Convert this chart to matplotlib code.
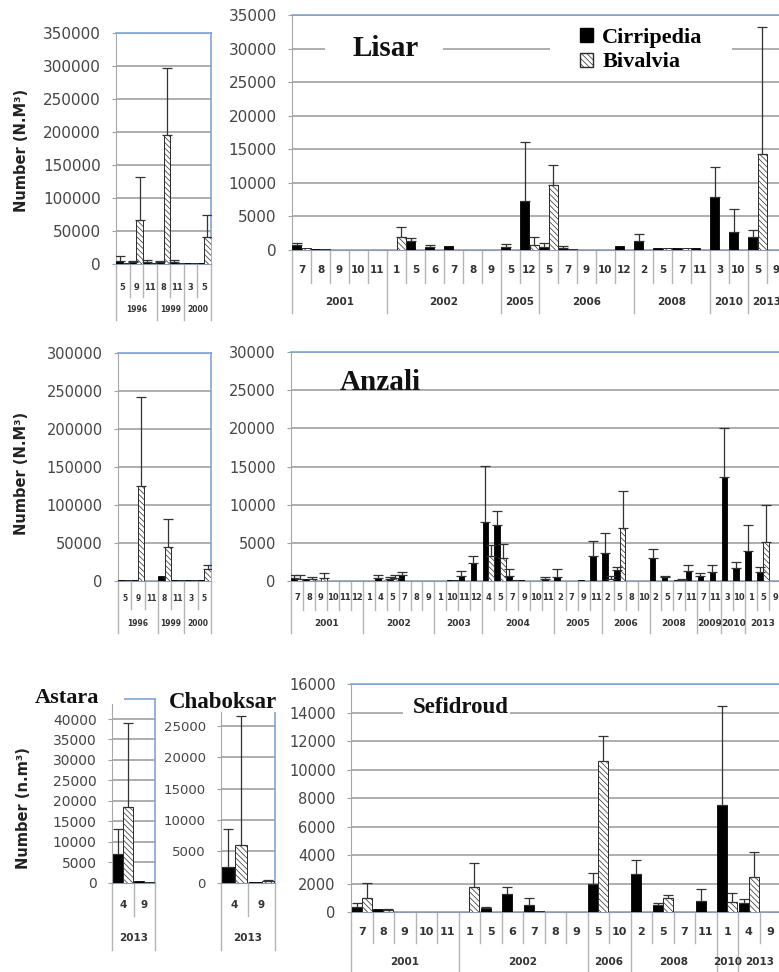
import numpy as np
import matplotlib
matplotlib.use("Agg")
import matplotlib.pyplot as plt
import matplotlib.transforms as mtransforms
from matplotlib.patches import Patch, Rectangle

# ---------------- data ----------------
# Lisar, 1996-2000 (left panel)
lisar_old_years = ["1996", "1999", "2000"]
lisar_old_months = [[5, 9, 11], [8, 11], [3, 5]]
lisar_old_cirr = [4000, 2000, 3000, 2000, 3000, 1000, 800]
lisar_old_cirr_err = [7000, 1500, 2500, 1500, 3000, 0, 0]
lisar_old_biv = [1000, 66500, 1000, 194000, 1000, 500, 39500]
lisar_old_biv_err = [0, 64500, 0, 102000, 0, 0, 33500]

# Lisar, 2001-2013
lisar_years = ["2001", "2002", "2005", "2006", "2008", "2010", "2013"]
lisar_months = [[7, 8, 9, 10, 11], [1, 5, 6, 7, 8, 9], [5, 12], [5, 7, 9, 10, 12],
                [2, 5, 7, 11], [3, 10], [5, 9]]
lisar_cirr = [800, 100, 50, 50, 50, 30, 1340, 400, 650, 50, 50, 400, 7350,
              500, 350, 50, 50, 600, 1390, 250, 250, 250, 7940, 2730, 1990, 50]
lisar_cirr_err = [200, 0, 0, 0, 0, 0, 500, 350, 0, 0, 0, 550, 8690,
                  600, 250, 0, 0, 0, 1040, 0, 0, 0, 4460, 3330, 990, 0]
lisar_biv = [350, 80, 50, 50, 50, 2000, 50, 50, 50, 50, 50, 50, 750,
             9680, 80, 50, 50, 50, 50, 250, 250, 50, 50, 50, 14250, 50]
lisar_biv_err = [0, 0, 0, 0, 0, 1380, 0, 0, 0, 0, 0, 0, 1150,
                 3020, 0, 0, 0, 0, 0, 0, 0, 0, 0, 0, 19020, 0]

# Anzali, 1996-2000 (left panel)
anzali_old_years = ["1996", "1999", "2000"]
anzali_old_months = [[5, 9, 11], [8, 11], [3, 5]]
anzali_old_cirr = [1500, 1000, 500, 6500, 1000, 1500, 1000]
anzali_old_cirr_err = [0, 0, 0, 0, 0, 0, 0]
anzali_old_biv = [1000, 125000, 500, 44000, 1000, 1000, 16000]
anzali_old_biv_err = [0, 117000, 0, 37000, 0, 0, 5000]

# Anzali, 2001-2013
anzali_years = ["2001", "2002", "2003", "2004", "2005", "2006", "2008", "2009", "2010", "2013"]
anzali_months = [[7, 8, 9, 10, 11, 12], [1, 4, 5, 7, 8, 9], [1, 10, 11, 12],
                 [4, 5, 7, 9, 10, 11], [2, 7, 9, 11], [2, 5, 8, 10], [2, 5, 7, 11],
                 [7, 11], [3, 10], [1, 5, 9]]
anzali_cirr = [450, 300, 0, 0, 0, 0, 0, 450, 250, 800, 0, 0, 0, 100, 700, 2370,
               7760, 7330, 660, 80, 0, 200, 530, 0, 100, 3300, 3680, 1400, 0, 0,
               2980, 530, 100, 1360, 700, 1180, 13680, 1670, 3900, 1140, 50]
anzali_cirr_err = [400, 0, 0, 0, 0, 0, 0, 400, 300, 350, 0, 0, 0, 0, 600, 930,
                   7370, 1870, 960, 0, 0, 300, 1070, 0, 0, 1960, 2550, 440, 0, 0,
                   1270, 70, 0, 790, 400, 880, 6320, 870, 3500, 660, 0]
anzali_biv = [300, 300, 350, 0, 0, 0, 0, 50, 400, 50, 0, 0, 0, 100, 0, 0,
              3300, 3030, 100, 0, 0, 0, 0, 0, 0, 0, 300, 6970, 0, 0,
              0, 50, 100, 0, 0, 0, 0, 0, 0, 5090, 0]
anzali_biv_err = [500, 200, 650, 0, 0, 0, 0, 0, 400, 0, 0, 0, 0, 0, 0, 0,
                  1400, 1840, 0, 0, 0, 0, 0, 0, 0, 0, 400, 4870, 0, 0,
                  0, 0, 160, 0, 0, 0, 0, 0, 0, 4810, 0]

# Astara and Chaboksar, 2013
single_years = ["2013"]
single_months = [[4, 9]]
astara_cirr = [6900, 300]
astara_cirr_err = [6100, 0]
astara_biv = [18400, 200]
astara_biv_err = [20600, 0]
chaboksar_cirr = [2500, 50]
chaboksar_cirr_err = [6100, 0]
chaboksar_biv = [6000, 200]
chaboksar_biv_err = [20600, 200]

# Sefidroud, 2001-2013
sefid_years = ["2001", "2002", "2006", "2008", "2010", "2013"]
sefid_months = [[7, 8, 9, 10, 11], [1, 5, 6, 7, 8, 9], [5, 10], [2, 5, 7, 11], [1], [4, 9]]
sefid_cirr = [400, 210, 0, 0, 0, 0, 330, 1260, 510, 0, 0, 1970, 0, 2710, 510, 0, 800, 7560, 630, 0]
sefid_cirr_err = [230, 0, 0, 0, 0, 0, 70, 540, 470, 0, 0, 810, 0, 940, 170, 0, 810, 6920, 280, 0]
sefid_biv = [1030, 160, 0, 0, 0, 1800, 30, 50, 100, 0, 0, 10640, 0, 0, 1030, 0, 0, 720, 2460, 0]
sefid_biv_err = [1050, 100, 0, 0, 0, 1690, 0, 0, 0, 0, 0, 1760, 0, 0, 190, 0, 0, 660, 1770, 0]

# ---------------- figure ----------------
W, H = 779, 972
fig = plt.figure(figsize=(W / 100, H / 100), dpi=100)
plt.rcParams["hatch.linewidth"] = 0.5
HATCH = "\\" * 6
SERIF = "Liberation Serif"


def fx(xpx):
    return xpx / W


def fy(ypx):
    return 1 - ypx / H


def panel(box, years, months, cirr, cirr_err, biv, biv_err, ymax, yticks,
          tick_fs, month_fs, year_fs, rows):
    x0, y0, x1, y1 = box
    ax = fig.add_axes([fx(x0), fy(y1), (x1 - x0) / W, (y1 - y0) / H])
    flat = [m for ms in months for m in ms]
    n = len(flat)
    x = np.arange(n)
    w, off = 0.47, 0.24
    ax.bar(x - off, cirr, w, color="black", edgecolor="black", linewidth=0.6, zorder=3)
    ax.bar(x + off, biv, w, color="white", edgecolor="#2a2a2a", hatch=HATCH,
           linewidth=0.7, zorder=3)
    for dx, v, e in ((-off, cirr, cirr_err), (off, biv, biv_err)):
        v = np.asarray(v, float)
        e = np.asarray(e, float)
        m = e > 0
        if m.any():
            ax.errorbar(x[m] + dx, v[m], yerr=[np.zeros(m.sum()), e[m]], fmt="none",
                        ecolor="#333333", elinewidth=0.9, capsize=3.5, capthick=0.9,
                        zorder=4)
    ax.set_xlim(-0.5, n - 0.5)
    ax.set_ylim(0, ymax)
    ax.set_yticks(yticks)
    ax.set_yticklabels([f"{t:d}" for t in yticks], fontsize=tick_fs, color="#454545")
    ax.tick_params(axis="y", length=3, width=0.8, color="#a0a0a0", pad=8)
    ax.set_xticks([])
    ax.yaxis.grid(True, color="#a0a0a0", linewidth=1.2)
    ax.set_axisbelow(True)
    for s in ("top", "right"):
        ax.spines[s].set_color("#7fa5d6")
        ax.spines[s].set_linewidth(1.2)
    ax.spines["left"].set_color("#a6a6a6")
    ax.spines["bottom"].set_color("#8a9bb0")

    # two-level category axis: months, then years
    month_y, year_y, sep_m, sep_y = rows
    tr = mtransforms.blended_transform_factory(ax.transData, fig.transFigure)
    bounds = np.cumsum([0] + [len(ms) for ms in months])
    for b in range(n + 1):
        bottom = sep_y if b in bounds else sep_m
        ax.plot([b - 0.5, b - 0.5], [fy(y1), fy(bottom)], transform=tr,
                color="#b4b4b4", linewidth=1.0, clip_on=False)
    for i, m in enumerate(flat):
        ax.text(i, fy(month_y), str(m), transform=tr, ha="center", va="center",
                fontsize=month_fs, fontweight="bold", color="#333333", clip_on=False)
    for k, yr in enumerate(years):
        xc = (bounds[k] + bounds[k + 1] - 1) / 2
        ax.text(xc, fy(year_y), yr, transform=tr, ha="center", va="center",
                fontsize=year_fs, fontweight="bold", color="#333333", clip_on=False)
    return ax


ax_l_old = panel((116, 32.5, 211, 263.5), lisar_old_years, lisar_old_months,
                 lisar_old_cirr, lisar_old_cirr_err, lisar_old_biv, lisar_old_biv_err,
                 350000, list(range(0, 350001, 50000)), 11, 6, 5.5, (287, 310, 297, 320))
ax_l = panel((292, 15, 786, 250), lisar_years, lisar_months,
             lisar_cirr, lisar_cirr_err, lisar_biv, lisar_biv_err,
             35000, list(range(0, 35001, 5000)), 11, 7.5, 7.5, (270, 302, 283, 313))
ax_a_old = panel((118, 352.5, 211, 581), anzali_old_years, anzali_old_months,
                 anzali_old_cirr, anzali_old_cirr_err, anzali_old_biv, anzali_old_biv_err,
                 300000, list(range(0, 300001, 50000)), 10.5, 5.5, 5.5, (598, 624, 609, 633))
ax_a = panel((291, 352, 781, 581), anzali_years, anzali_months,
             anzali_cirr, anzali_cirr_err, anzali_biv, anzali_biv_err,
             30000, list(range(0, 30001, 5000)), 10.5, 6, 6.5, (597, 624, 610, 633))
ax_as = panel((112, 698.6, 155, 882.5), single_years, single_months,
              astara_cirr, astara_cirr_err, astara_biv, astara_biv_err,
              45000, list(range(0, 40001, 5000)), 10, 7.5, 7.5, (905, 938, 916, 950))
ax_ch = panel((221, 694.7, 275, 882.5), single_years, single_months,
              chaboksar_cirr, chaboksar_cirr_err, chaboksar_biv, chaboksar_biv_err,
              30000, list(range(0, 25001, 5000)), 9.5, 7.5, 7.5, (905, 938, 916, 950))
ax_s = panel((351, 684.3, 781, 912.3), sefid_years, sefid_months,
             sefid_cirr, sefid_cirr_err, sefid_biv, sefid_biv_err,
             16000, list(range(0, 16001, 2000)), 10.5, 8, 7.5, (932, 962, 943, 972))

# white backgrounds behind titles and legend
for (xa, ya, xb, yb) in [(325, 40, 443, 58), (550, 40, 732, 58), (403, 703, 510, 722),
                         (98, 692, 124, 704), (165, 688, 281, 712)]:
    fig.patches.append(Rectangle((fx(xa), fy(yb)), (xb - xa) / W, (yb - ya) / H,
                                 transform=fig.transFigure, facecolor="white",
                                 edgecolor="none", zorder=2))

# site names
title_kw = dict(family=SERIF, fontweight="bold", color="#111111", ha="center", va="center", zorder=4)
fig.text(fx(386), fy(48), "Lisar", fontsize=21, **title_kw)
fig.text(fx(380), fy(383), "Anzali", fontsize=21, **title_kw)
fig.text(fx(461), fy(707), "Sefidroud", fontsize=16.5, **title_kw)
fig.text(fx(67), fy(698), "Astara", fontsize=16, **title_kw)
fig.text(fx(223), fy(702), "Chaboksar", fontsize=16.5, **title_kw)

# axis titles
ylab_kw = dict(rotation=90, ha="center", va="center", fontsize=10.5, fontweight="bold", color="#222222")
fig.text(fx(22), fy(150), "Number (N.M³)", **ylab_kw)
fig.text(fx(22), fy(473), "Number (N.M³)", **ylab_kw)
fig.text(fx(24), fy(808), "Number (n.m³)", **ylab_kw)

# legend
handles = [Patch(facecolor="black", edgecolor="black", label="Cirripedia"),
           Patch(facecolor="white", edgecolor="#2a2a2a", hatch=HATCH, label="Bivalvia")]
leg = fig.legend(handles=handles, loc="upper left", bbox_to_anchor=(fx(580), fy(28)),
                 frameon=False, prop=dict(family=SERIF, weight="bold", size=16),
                 handlelength=0.6, handleheight=0.6, handletextpad=0.4,
                 labelspacing=0.2, borderpad=0, borderaxespad=0)
leg.set_zorder(5)

fig.savefig("out.png", dpi=100)
